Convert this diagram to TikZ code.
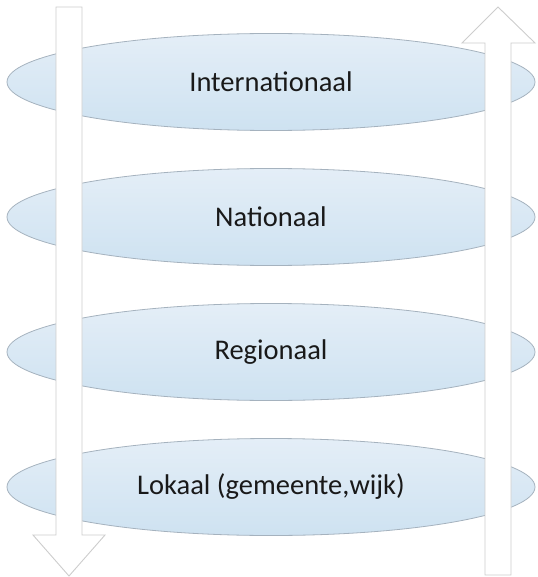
\documentclass[tikz,border=0pt]{standalone}
\usepackage{fontspec}
\setmainfont{Carlito}
\usetikzlibrary{shapes.geometric}

\definecolor{lvlfillA}{RGB}{228,238,247}
\definecolor{lvlfillB}{RGB}{206,226,241}
\definecolor{lvlline}{RGB}{165,178,190}
\definecolor{arrline}{RGB}{205,205,205}

\begin{document}
\begin{tikzpicture}[
  x=1pt, y=-1pt,
  every node/.style={font=\fontsize{28.5}{34}\selectfont, text=black!90},
  level/.style  = {ellipse, draw=lvlline, line width=0.8pt, top color=lvlfillA, bottom color=lvlfillB,
                   minimum width=528pt, minimum height=97pt, inner sep=0pt},
  blockarr/.style = {draw=arrline, fill=white, line width=0.9pt, line join=miter},
]
  \useasboundingbox (0,0) rectangle (537,577);
  % levels, top to bottom
  \node[level] (intl) at (271,82)  {Internationaal};
  \node[level] (natl) at (271,217) {Nationaal};
  \node[level] (regl) at (271,352) {Regionaal};
  \node[level] (lokl) at (271,487) {Lokaal (gemeente,wijk)};
  % block arrows over the levels
  \draw[blockarr] (56,7) -- (82,7) -- (82,535) -- (105,535) -- (69,576) -- (33,535) -- (56,535) -- cycle;
  \draw[blockarr] (485,575) -- (511,575) -- (511,43) -- (535,43) -- (498,7) -- (462,43) -- (485,43) -- cycle;
\end{tikzpicture}
\end{document}
